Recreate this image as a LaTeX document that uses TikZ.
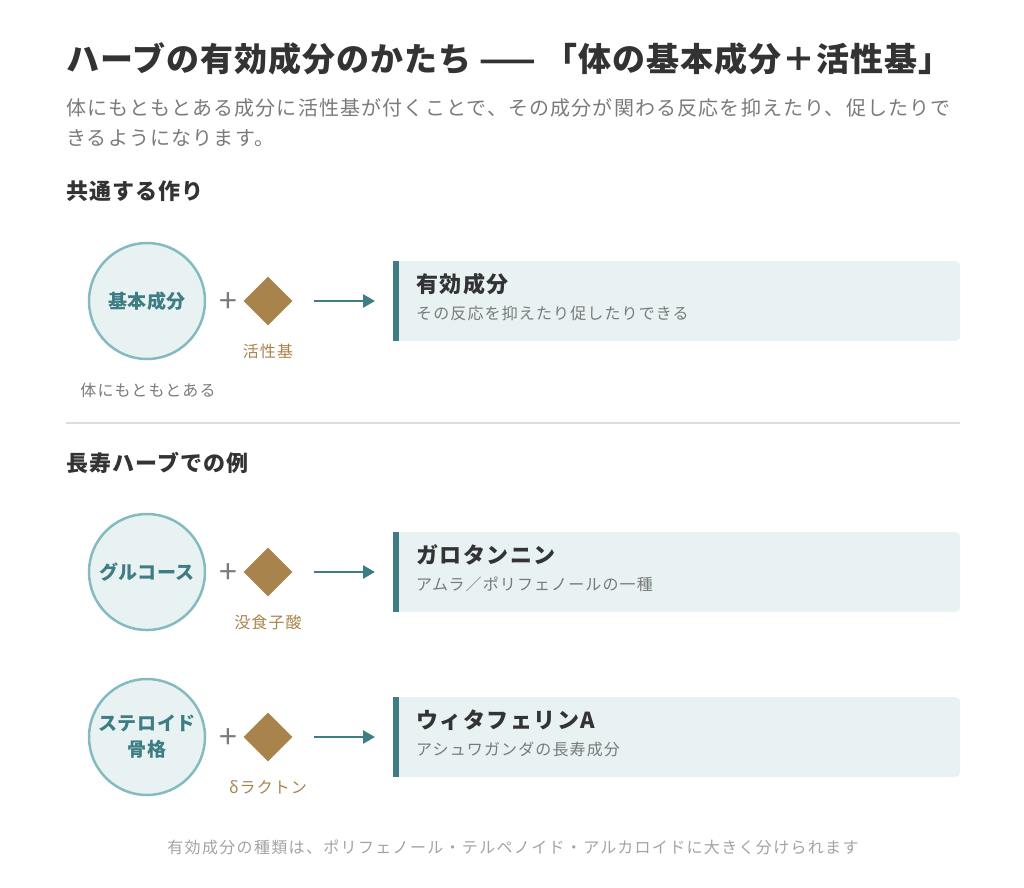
\documentclass[tikz,border=0pt]{standalone}
\usepackage{fontspec}
\setmainfont{Noto Sans CJK JP}
\usetikzlibrary{positioning,arrows.meta,shapes.geometric}

\definecolor{ink}{HTML}{333333}
\definecolor{mute}{HTML}{7A7A7A}
\definecolor{faint}{HTML}{A3A3A3}
\definecolor{tealc}{HTML}{3D7D83}
\definecolor{ringc}{HTML}{84BBC0}
\definecolor{paleteal}{HTML}{E8F2F3}
\definecolor{gold}{HTML}{A8834B}
\definecolor{rulec}{HTML}{DDDDDD}

\newcommand\fs[2]{\fontsize{#1}{#1}\selectfont\addfontfeature{LetterSpace=#2}}

\tikzset{
  headline/.style={anchor=base west,inner sep=0pt,text=ink,font=\bfseries\fs{33}{3}},
  lead/.style={anchor=base west,inner sep=0pt,text=mute,font=\fs{20}{5.8}},
  section/.style={anchor=base west,inner sep=0pt,text=ink,font=\bfseries\fs{22}{5}},
  base/.style={circle,draw=ringc,fill=paleteal,line width=2.5pt,minimum size=116pt,
    inner sep=0pt,text=tealc,align=center,font=\bfseries\fs{19}{3}},
  plus/.style={inner sep=0pt,text=mute,font=\fs{32}{0}},
  group/.style={diamond,aspect=1,fill=gold,minimum size=49pt,inner sep=0pt},
  glabel/.style={anchor=base,inner sep=0pt,text=gold,font=\fs{16}{7}},
  note/.style={anchor=base,inner sep=0pt,text=mute,font=\fs{16}{7}},
  result/.style={fill=paleteal,rounded corners=5pt,minimum width=567pt,minimum height=80pt,
    inner sep=0pt,anchor=west},
  rtitle/.style={anchor=base west,inner sep=0pt,text=ink,font=\bfseries\fs{22}{7}},
  rsub/.style={anchor=base west,inner sep=0pt,text=mute,font=\fs{16}{7}},
  flow/.style={draw=tealc,line width=2.5pt,-{Triangle[length=12pt,width=13pt]},
    shorten <=21pt,shorten >=18pt},
  footer/.style={anchor=base,inner sep=0pt,text=faint,font=\fs{16}{8.3}},
}

\begin{document}
\begin{tikzpicture}[x=1pt,y=-1pt]
  \useasboundingbox (0,0) rectangle (1024,887);

  % heading
  \node (T)  [headline] at (66,71) {ハーブの有効成分のかたち —— 「体の基本成分＋活性基」};
  \node (L1) [lead] at (66,115) {体にもともとある成分に活性基が付くことで、その成分が関わる反応を抑えたり、促したりで};
  \node (L2) [lead] at (66,145) {きるようになります。};

  \node (S1) [section] at (66,199) {共通する作り};

  % common structure
  \node (C1) [base]  at (147,301) {基本成分};
  \node (P1) [plus]  at (228,303) {+};
  \node (D1) [group] at (268,301) {};
  \node (G1) [glabel] at (268,357) {活性基};
  \node (N1) [note]   at (148,396) {体にもともとある};
  \node (R1) [result] at (393,301) {};
  \fill [tealc] (R1.north west) rectangle ([xshift=5.5pt]R1.south west);
  \node (R1t) [rtitle] at (416,292) {有効成分};
  \node (R1s) [rsub]   at (416,319) {その反応を抑えたり促したりできる};
  \draw [flow] (D1) -- (R1);

  \draw [rulec,line width=1.5pt] (66,423) -- (960,423);

  \node (S2) [section] at (66,471) {長寿ハーブでの例};

  % galloyl
  \node (C2) [base]  at (147,572) {グルコース};
  \node (P2) [plus]  at (228,574) {+};
  \node (D2) [group] at (268,572) {};
  \node (G2) [glabel] at (268,628) {没食子酸};
  \node (R2) [result] at (393,572) {};
  \fill [tealc] (R2.north west) rectangle ([xshift=5.5pt]R2.south west);
  \node (R2t) [rtitle] at (416,563) {ガロタンニン};
  \node (R2s) [rsub]   at (416,590) {アムラ／ポリフェノールの一種};
  \draw [flow] (D2) -- (R2);

  % withanolide
  \node (C3) [base]  at (147,737) {ステロイド\\[7pt]骨格};
  \node (P3) [plus]  at (228,739) {+};
  \node (D3) [group] at (268,737) {};
  \node (G3) [glabel] at (268,793) {δラクトン};
  \node (R3) [result] at (393,737) {};
  \fill [tealc] (R3.north west) rectangle ([xshift=5.5pt]R3.south west);
  \node (R3t) [rtitle] at (416,728) {ウィタフェリンA};
  \node (R3s) [rsub]   at (416,755) {アシュワガンダの長寿成分};
  \draw [flow] (D3) -- (R3);

  \node (F) [footer] at (513,853) {有効成分の種類は、ポリフェノール・テルペノイド・アルカロイドに大きく分けられます};
\end{tikzpicture}
\end{document}
